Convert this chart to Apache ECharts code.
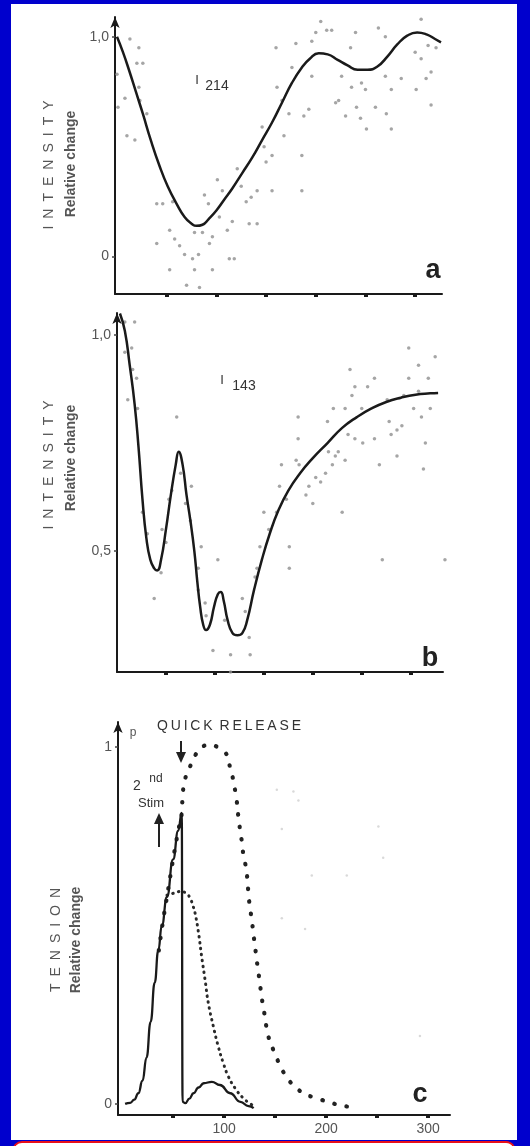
<!DOCTYPE html>
<html>
<head>
<meta charset="utf-8">
<script src="https://cdn.jsdelivr.net/npm/echarts@6/dist/echarts.min.js"></script>
<style>
html, body { margin: 0; padding: 0; width: 530px; height: 1146px; overflow: hidden; background: #0000cd; }
#panel { position: absolute; left: 11px; top: 4px; width: 506px; height: 1136px; background: #fff; }
#strip { position: absolute; left: 12px; top: 1141px; width: 500px; height: 20px; background: #fff; border: 2px solid #e8101a; border-radius: 10px; }
#chart { position: absolute; left: 0; top: 0; width: 530px; height: 1146px; }
</style>
</head>
<body>
<div id="panel"></div>
<div id="strip"></div>
<div id="chart"></div>
<script>
// a: I214 fitted curve + raw points
const intensity214 = [[0,1.0],[6,0.93],[12,0.85],[19,0.75],[26,0.65],[34,0.53],[43,0.41],[51,0.32],[60,0.24],[68,0.18],[75,0.15],[80,0.14],[86,0.145],[92,0.17],[100,0.21],[108,0.26],[116,0.31],[126,0.38],[136,0.45],[146,0.53],[156,0.61],[166,0.70],[176,0.79],[186,0.86],[194,0.90],[203,0.925],[212,0.92],[222,0.895],[232,0.87],[242,0.85],[252,0.85],[262,0.865],[272,0.91],[282,0.965],[292,1.005],[302,1.02],[312,1.01],[320,0.99],[326,0.975]];
const points214 = [[13,0.99],[22,0.95],[26,0.88],[20,0.88],[8,0.72],[1,0.68],[10,0.55],[18,0.53],[23,0.71],[30,0.65],[22,0.77],[0,0.83],[40,0.24],[46,0.24],[56,0.25],[40,0.06],[53,0.12],[58,0.08],[63,0.05],[68,0.01],[76,-0.01],[82,0.01],[53,-0.06],[78,-0.06],[96,-0.06],[70,-0.13],[83,-0.14],[78,0.11],[86,0.11],[96,0.09],[93,0.06],[88,0.28],[92,0.24],[101,0.35],[106,0.30],[103,0.18],[111,0.12],[116,0.16],[121,0.40],[125,0.32],[130,0.25],[135,0.27],[141,0.30],[141,0.15],[133,0.15],[113,-0.01],[118,-0.01],[148,0.50],[146,0.59],[150,0.43],[156,0.46],[156,0.30],[161,0.77],[160,0.95],[166,0.71],[168,0.55],[173,0.65],[176,0.86],[180,0.97],[186,0.46],[186,0.30],[188,0.64],[193,0.67],[200,1.02],[196,0.98],[196,0.82],[205,1.07],[211,1.03],[216,1.03],[220,0.70],[223,0.71],[226,0.82],[230,0.64],[235,0.95],[236,0.77],[240,1.02],[241,0.68],[245,0.63],[246,0.79],[250,0.76],[251,0.58],[260,0.68],[263,1.04],[270,1.00],[270,0.82],[271,0.65],[276,0.76],[276,0.58],[286,0.81],[300,0.93],[301,0.76],[306,1.08],[306,0.90],[311,0.81],[313,0.96],[316,0.84],[316,0.69],[321,0.95]];

// b: I143 fitted curve + raw points
const intensity143 = [[3,1.05],[8,1.01],[13,0.93],[18,0.84],[22,0.74],[26,0.62],[30,0.53],[34,0.48],[38,0.46],[41,0.455],[45,0.48],[50,0.55],[55,0.63],[60,0.70],[63,0.73],[67,0.70],[71,0.63],[75,0.57],[79,0.50],[82,0.43],[85,0.37],[88,0.33],[91,0.317],[95,0.33],[99,0.37],[103,0.40],[106,0.405],[109,0.385],[113,0.34],[118,0.31],[123,0.305],[128,0.31],[133,0.34],[140,0.41],[148,0.48],[156,0.54],[165,0.595],[175,0.64],[187,0.68],[200,0.715],[215,0.75],[230,0.785],[245,0.81],[260,0.83],[275,0.845],[290,0.855],[305,0.862],[320,0.865],[328,0.866]];
const points143 = [[8,1.03],[15,0.97],[18,1.03],[20,0.90],[11,0.85],[21,0.83],[16,0.92],[8,0.96],[26,0.59],[31,0.54],[38,0.39],[45,0.45],[46,0.55],[53,0.62],[50,0.52],[56,0.64],[61,0.81],[65,0.68],[70,0.61],[75,0.57],[76,0.65],[83,0.46],[86,0.51],[83,0.41],[90,0.38],[91,0.35],[98,0.27],[103,0.48],[110,0.34],[116,0.26],[116,0.22],[128,0.39],[131,0.36],[135,0.30],[136,0.26],[141,0.44],[143,0.46],[146,0.51],[150,0.59],[155,0.55],[163,0.59],[166,0.65],[168,0.70],[173,0.62],[176,0.51],[176,0.46],[183,0.71],[185,0.81],[185,0.76],[186,0.70],[193,0.63],[196,0.65],[200,0.61],[203,0.67],[208,0.66],[213,0.68],[215,0.80],[216,0.73],[220,0.70],[221,0.83],[223,0.72],[226,0.73],[230,0.59],[233,0.83],[233,0.71],[236,0.77],[238,0.92],[240,0.86],[243,0.76],[243,0.88],[250,0.83],[251,0.75],[256,0.88],[263,0.90],[263,0.76],[268,0.70],[271,0.48],[276,0.85],[278,0.80],[280,0.77],[286,0.72],[286,0.78],[291,0.79],[293,0.86],[298,0.97],[298,0.90],[303,0.83],[308,0.93],[308,0.87],[311,0.81],[313,0.69],[315,0.75],[318,0.90],[320,0.83],[325,0.95],[335,0.48]];

// c: tension
const tensionTwitch = [[3,0],[8,0.003],[12,0.012],[16,0.03],[20,0.065],[24,0.13],[28,0.23],[32,0.34],[35.5,0.43],[39,0.5],[44,0.58],[50,0.685],[55,0.765],[58.5,0.815],[59.3,0.006],[62,0.002],[66,0.015],[70,0.03],[75,0.046],[80,0.058],[88,0.062],[96,0.053],[106,0.03],[116,0.006],[124,-0.006],[129,-0.012]];
const tensionFull = [[36,0.43],[40,0.51],[44,0.58],[50,0.685],[55,0.765],[58.5,0.815],[59.5,0.87],[61.8,0.91],[65,0.935],[68.3,0.955],[72,0.978],[76.5,0.996],[86,1.006],[96,0.996],[101,0.985],[104,0.968],[106,0.94],[109,0.908],[111,0.875],[112.5,0.847],[114,0.805],[115.7,0.768],[117.4,0.735],[119,0.697],[121.6,0.66],[123,0.623],[124,0.585],[125.5,0.548],[127.2,0.515],[128.7,0.478],[130.4,0.44],[132,0.403],[133.6,0.37],[135.3,0.333],[137,0.296],[139.2,0.259],[141.2,0.221],[143.4,0.189],[148.3,0.151],[153.2,0.118],[158,0.09],[164.7,0.062],[171.3,0.044],[177.7,0.03],[186,0.02],[196,0.011],[204,0.004],[214,-0.004],[223,-0.008],[231,-0.01]];
const tensionReleased = [[44,0.585],[50,0.59],[57,0.595],[63,0.59],[66.7,0.576],[69.5,0.555],[71.6,0.534],[75,0.478],[78,0.413],[81.4,0.347],[84.6,0.282],[89.5,0.217],[94.4,0.16],[99.3,0.114],[104.2,0.077],[110.8,0.044],[118.9,0.016],[125,0.002],[130.4,-0.008]];
const tensionSpecks = [[151.7,0.88],[168,0.875],[172.9,0.85],[156.6,0.77],[186,0.64],[220.3,0.64],[156.6,0.52],[179.4,0.49],[251.3,0.777],[256,0.69],[292,0.19]];

const xTicks = [50, 100, 150, 200, 250, 300];
const xLabelsC = [100, 200, 300];
const yTicksA = [0, 1];
const yLabelsA = ['0', '1,0'];
const yTicksB = [0.5, 1];
const yLabelsB = ['0,5', '1,0'];
const yTicksC = [0, 1];
const yLabelsC = ['0', '1'];

const INK = '#1a1a1a';
const FONT = 'Liberation Sans';

function xAxis(gridIndex, min, max, labels) {
  return {
    type: 'value', gridIndex, min, max,
    splitLine: { show: false },
    axisLine: { show: true, onZero: false, lineStyle: { color: INK, width: 2 } },
    axisTick: { show: true, customValues: xTicks, length: 3, lineStyle: { color: INK, width: 4 } },
    axisLabel: labels
      ? { show: true, customValues: labels, margin: 7, color: '#555', fontSize: 14, fontFamily: FONT }
      : { show: false }
  };
}

function yAxis(gridIndex, min, max, ticks, labels) {
  return {
    type: 'value', gridIndex, min, max,
    splitLine: { show: false },
    axisLine: { show: true, onZero: false, symbol: ['none', 'arrow'], symbolSize: [7, 11], lineStyle: { color: INK, width: 2 } },
    axisTick: { show: true, customValues: ticks, length: 3, lineStyle: { color: '#444', width: 1.5 } },
    axisLabel: {
      show: true, customValues: ticks, margin: 6, color: '#555', fontSize: 14, fontFamily: FONT,
      formatter: v => labels[ticks.indexOf(v)]
    }
  };
}

function vText(x, y, text, size, weight) {
  return {
    type: 'text', x, y, rotation: Math.PI / 2,
    style: { text, fill: '#555', font: `${weight || 'normal'} ${size}px ${FONT}`, textAlign: 'center', textVerticalAlign: 'middle' }
  };
}
function hText(x, y, text, size, weight, color) {
  return {
    type: 'text', x, y,
    style: { text, fill: color || '#444', font: `${weight || 'normal'} ${size}px ${FONT}`, textAlign: 'center', textVerticalAlign: 'middle' }
  };
}

const sp = '\u2002';
const spaced = s => s.split('').join(sp);
const thin = s => s.split('').join('\u2009');

const chart = echarts.init(document.getElementById('chart'), null, { renderer: 'canvas' });

const option = {
  backgroundColor: 'transparent',
  animation: false,
  grid: [
    { left: 115, top: 17, width: 327, height: 277 },
    { left: 117, top: 313, width: 326, height: 359 },
    { left: 118, top: 722, width: 332, height: 393 }
  ],
  xAxis: [
    xAxis(0, -2, 327, null),
    xAxis(1, 0, 333, null),
    xAxis(2, -4, 321.5, xLabelsC)
  ],
  yAxis: [
    yAxis(0, -0.17, 1.09, yTicksA, yLabelsA),
    yAxis(1, 0.22, 1.051, yTicksB, yLabelsB),
    yAxis(2, -0.031, 1.07, yTicksC, yLabelsC)
  ],
  series: [
    {
      name: 'I214 points', type: 'scatter', xAxisIndex: 0, yAxisIndex: 0, data: points214,
      symbolSize: 3.5, clip: false, itemStyle: { color: '#8e8e8e' }
    },
    {
      name: 'I214', type: 'line', xAxisIndex: 0, yAxisIndex: 0, data: intensity214,
      smooth: true, showSymbol: false, lineStyle: { color: INK, width: 2.5 }
    },
    {
      name: 'I143 points', type: 'scatter', xAxisIndex: 1, yAxisIndex: 1, data: points143,
      symbolSize: 3.5, clip: false, itemStyle: { color: '#8e8e8e' }
    },
    {
      name: 'I143', type: 'line', xAxisIndex: 1, yAxisIndex: 1, data: intensity143,
      smooth: true, showSymbol: false, lineStyle: { color: INK, width: 2.5 }
    },
    {
      name: 'specks', type: 'scatter', xAxisIndex: 2, yAxisIndex: 2, data: tensionSpecks,
      symbolSize: 2.5, itemStyle: { color: '#cfcfcf' }
    },
    {
      name: 'full', type: 'line', xAxisIndex: 2, yAxisIndex: 2, data: tensionFull,
      smooth: true, showSymbol: false,
      lineStyle: { color: '#222', width: 4.2, type: [0.5, 12], cap: 'round' }
    },
    {
      name: 'released', type: 'line', xAxisIndex: 2, yAxisIndex: 2, data: tensionReleased,
      smooth: true, showSymbol: false,
      lineStyle: { color: '#2a2a2a', width: 3, type: [0.5, 5.5], cap: 'round' }
    },
    {
      name: 'twitch', type: 'line', xAxisIndex: 2, yAxisIndex: 2, data: tensionTwitch,
      smooth: 0.5, smoothMonotone: 'x', showSymbol: false, clip: false,
      lineStyle: { color: INK, width: 2.3 }
    }
  ],
  graphic: {
    elements: [
      // axis titles
      vText(49, 165, spaced('INTENSITY'), 14),
      vText(71, 164, 'Relative change', 14, 'bold'),
      vText(49, 465, spaced('INTENSITY'), 14),
      vText(71, 458, 'Relative change', 14, 'bold'),
      vText(56, 940, spaced('TENSION'), 14),
      vText(76, 940, 'Relative change', 14, 'bold'),
      // panel letters
      hText(433, 271, 'a', 27, 'bold', '#222'),
      hText(430, 659, 'b', 27, 'bold', '#222'),
      hText(420, 1095, 'c', 27, 'bold', '#222'),
      // curve tags
      hText(197, 80, 'I', 13, 'normal', '#333'),
      hText(217, 86, '214', 14, 'normal', '#333'),
      hText(222, 380, 'I', 13, 'normal', '#333'),
      hText(244, 386, '143', 14, 'normal', '#333'),
      // panel c annotations
      hText(133, 733, 'p', 12, 'normal', '#555'),
      hText(229, 726, thin('QUICK') + '\u2002' + thin('RELEASE'), 14, 'normal', '#333'),
      hText(137, 786, '2', 14, 'normal', '#333'),
      hText(156, 779, 'nd', 12, 'normal', '#333'),
      hText(151, 803, 'Stim', 13, 'normal', '#333'),
      { type: 'line', shape: { x1: 181, y1: 741, x2: 181, y2: 754 }, style: { stroke: '#222', lineWidth: 2 } },
      { type: 'polygon', shape: { points: [[176, 752], [186, 752], [181, 763]] }, style: { fill: '#222' } },
      { type: 'line', shape: { x1: 159, y1: 847, x2: 159, y2: 822 }, style: { stroke: '#222', lineWidth: 2 } },
      { type: 'polygon', shape: { points: [[154, 824], [164, 824], [159, 813]] }, style: { fill: '#222' } }
    ]
  }
};

chart.setOption(option);
</script>
</body>
</html>
